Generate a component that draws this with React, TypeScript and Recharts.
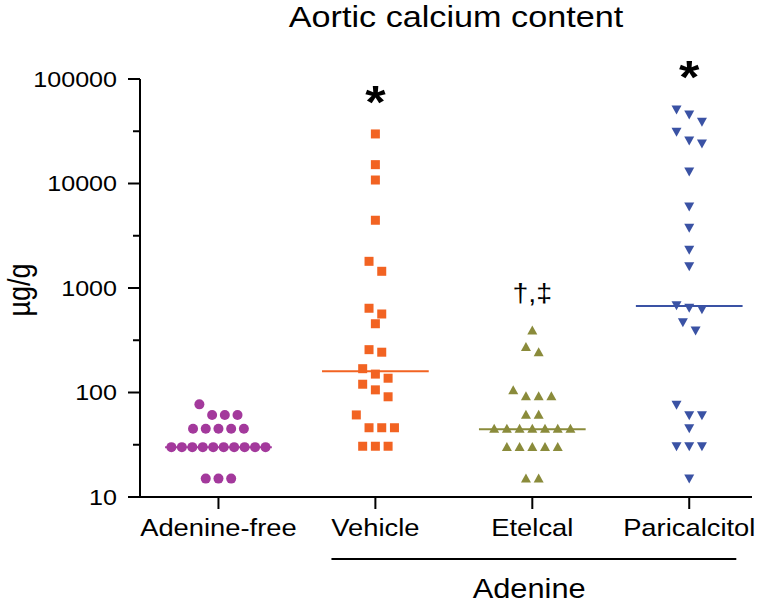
import React from 'react';
import { ScatterChart, Scatter, XAxis, YAxis, ReferenceLine } from 'recharts';

// ---------- data ----------
const categories = ['Adenine-free', 'Vehicle', 'Etelcal', 'Paricalcitol'];

const adenineFree = [77, 61, 61, 61, 45, 45, 45, 45, 45, 30, 30, 30, 30, 30, 30, 30, 30, 30, 30, 15, 15, 15];
const vehicle = [29800, 15150, 10800, 4450, 1800, 1445, 640, 564, 455, 257, 243, 169, 150, 137, 120, 106, 91, 61, 46, 46, 46, 30.6, 30.6, 30.6];
const etelcal = [388, 270, 240, 104, 91, 91, 91, 60.6, 60.6, 44.5, 44.5, 44.5, 44.5, 44.5, 44.5, 44.5, 29.7, 29.7, 29.7, 29.7, 29.7, 14.9, 14.9];
const paricalcitol = [51600, 46200, 39400, 31600, 26100, 24400, 13200, 6100, 3810, 2345, 1633, 692, 653, 634, 476, 396, 77, 61.4, 61.4, 46, 31, 31, 31, 15.2];

const significance = ['', '*', '†,‡', '*'];
const yTicks = [10, 100, 1000, 10000, 100000];
const groupLabel = 'Adenine';
const groupFrom = 'Vehicle';
const groupTo = 'Paricalcitol';

// ---------- styles / layout ----------
const FONT = '"Liberation Sans", Arial, Helvetica, sans-serif';
const STRETCH = 1.14;
const colors = ['#A3399C', '#F26322', '#8A8B3B', '#3A52A4'];
const X_MIN = 0.5;
const X_MAX = 4.4;
const SLOT = 0.081;
const MAX_SPAN = 0.6;
const ROW_TOL = 0.125;
const MEDIAN_HALF = 0.34;
const TICK_SIZE = 12;
const TICK_MARGIN = 11;

const groups = [adenineFree, vehicle, etelcal, paricalcitol];

function swarm(values: number[], center: number) {
  const sorted = [...values].sort((a, b) => b - a);
  const rows: number[][] = [];
  let cur: number[] = [];
  let start = 0;
  for (const v of sorted) {
    const l = Math.log10(v);
    if (cur.length && start - l <= ROW_TOL) cur.push(v);
    else {
      if (cur.length) rows.push(cur);
      cur = [v];
      start = l;
    }
  }
  if (cur.length) rows.push(cur);
  const pts: { x: number; y: number }[] = [];
  for (const row of rows) {
    const n = row.length;
    const step = n > 1 ? Math.min(SLOT, MAX_SPAN / (n - 1)) : 0;
    row.forEach((v, i) => pts.push({ x: center + (i - (n - 1) / 2) * step, y: v }));
  }
  return pts;
}

function median(values: number[]) {
  const s = [...values].sort((a, b) => a - b);
  const n = s.length;
  return n % 2 ? s[(n - 1) / 2] : (s[n / 2 - 1] + s[n / 2]) / 2;
}

const minorTicks = yTicks.slice(0, -1).map((t, i) => Math.sqrt(t * yTicks[i + 1]));
const allYTicks = [...yTicks, ...minorTicks].sort((a, b) => a - b);

const swarmData = groups.map((g, i) => swarm(g, i + 1));
const medians = groups.map(median);
const annotationData = groups
  .map((g, i) => ({ x: i + 1, y: Math.max(...g), text: significance[i] }))
  .filter((d) => d.text);

// ---------- shapes ----------
const CircleShape = (p: any) => <circle cx={p.cx} cy={p.cy} r={5} fill={colors[0]} />;
const SquareShape = (p: any) => <rect x={p.cx - 4.5} y={p.cy - 4.5} width={9} height={9} fill={colors[1]} />;
const UpTri = (p: any) => (
  <polygon points={`${p.cx},${p.cy - 5.5} ${p.cx + 5},${p.cy + 3.5} ${p.cx - 5},${p.cy + 3.5}`} fill={colors[2]} />
);
const DownTri = (p: any) => (
  <polygon points={`${p.cx - 5},${p.cy - 3.5} ${p.cx + 5},${p.cy - 3.5} ${p.cx},${p.cy + 5.5}`} fill={colors[3]} />
);
const shapes = [CircleShape, SquareShape, UpTri, DownTri];

const AnnotationShape = (p: any) => {
  const text = p.payload?.text ?? '';
  const isStar = text === '*';
  const gap = isStar ? 16 : 29;
  return (
    <text
      transform={`translate(${p.cx},${p.cy - gap}) scale(${STRETCH},1)`}
      textAnchor="middle"
      fontFamily={FONT}
      fontSize={isStar ? 46 : 25}
      fontWeight={isStar ? 'bold' : 'normal'}
      fill="#000"
    >
      {text}
    </text>
  );
};

const YTick = (p: any) => {
  const { x, y, payload } = p;
  const v = payload.value;
  const major = yTicks.some((t) => Math.abs(t - v) < 1e-6);
  const axisX = x + TICK_SIZE + TICK_MARGIN;
  return (
    <g>
      <line x1={axisX - (major ? 12 : 7)} x2={axisX} y1={y} y2={y} stroke="#000" strokeWidth={2} />
      {major && (
        <text
          transform={`translate(${x},${y}) scale(${STRETCH},1)`}
          textAnchor="end"
          dy="0.36em"
          fontFamily={FONT}
          fontSize={22}
          fill="#000"
        >
          {String(v)}
        </text>
      )}
    </g>
  );
};

const XTick = (p: any) => {
  const { x, y, payload } = p;
  const label = categories[Math.round(payload.value) - 1] ?? '';
  return (
    <text
      transform={`translate(${x},${y}) scale(${STRETCH},1)`}
      textAnchor="middle"
      dy={23}
      fontFamily={FONT}
      fontSize={24}
      fill="#000"
    >
      {label}
    </text>
  );
};

const YLabel = (p: any) => {
  const vb = p.viewBox || { x: 0, y: 79, width: 140, height: 418 };
  const cx = vb.x + 30;
  const cy = vb.y + vb.height / 2 + 2;
  return (
    <text
      transform={`translate(${cx},${cy}) rotate(-90) scale(1,${STRETCH})`}
      textAnchor="middle"
      fontFamily={FONT}
      fontSize={27}
      fill="#000"
    >
      µg/g
    </text>
  );
};

const XGroupLabel = (p: any) => {
  const vb = p.viewBox || { x: 140, y: 497, width: 612, height: 60 };
  const toPx = (u: number) => vb.x + ((u - X_MIN) / (X_MAX - X_MIN)) * vb.width;
  const a = categories.indexOf(groupFrom) + 1 - 0.28;
  const b = categories.indexOf(groupTo) + 1 + 0.3;
  const mid = (a + b) / 2 - 0.03;
  return (
    <g>
      <line x1={toPx(a)} x2={toPx(b)} y1={vb.y + 62} y2={vb.y + 62} stroke="#000" strokeWidth={2} />
      <text
        transform={`translate(${toPx(mid)},${vb.y + 101}) scale(${STRETCH},1)`}
        textAnchor="middle"
        fontFamily={FONT}
        fontSize={27}
        fill="#000"
      >
        {groupLabel}
      </text>
    </g>
  );
};

export default function App() {
  return (
    <div style={{ position: 'absolute', left: 0, top: 0, width: 774, height: 606, background: '#fff' }}>
      <div
        style={{
          position: 'absolute',
          left: 0,
          top: 0,
          width: 912,
          textAlign: 'center',
          fontFamily: FONT,
          fontSize: 30,
          lineHeight: '34px',
          color: '#000',
          transform: `scaleX(${STRETCH})`,
          transformOrigin: '0 0',
          whiteSpace: 'nowrap',
        }}
      >
        <span style={{ display: 'inline-block', position: 'relative', left: -56 }}>Aortic calcium content</span>
      </div>
      <ScatterChart width={774} height={606} margin={{ top: 79, right: 22, bottom: 49, left: 0 }}>
        <XAxis
          type="number"
          dataKey="x"
          domain={[X_MIN, X_MAX]}
          ticks={[1, 2, 3, 4]}
          interval={0}
          height={60}
          axisLine={{ stroke: '#000', strokeWidth: 2 }}
          tickLine={{ stroke: '#000', strokeWidth: 2 }}
          tickSize={TICK_SIZE}
          tickMargin={4}
          tick={<XTick />}
          label={{ content: <XGroupLabel /> }}
        />
        <YAxis
          type="number"
          dataKey="y"
          scale="log"
          domain={[10, 100000]}
          ticks={allYTicks}
          interval={0}
          width={140}
          axisLine={{ stroke: '#000', strokeWidth: 2 }}
          tickLine={false}
          tickSize={TICK_SIZE}
          tickMargin={TICK_MARGIN}
          tick={<YTick />}
          label={{ content: <YLabel /> }}
        />
        {medians.map((m, i) => (
          <ReferenceLine
            key={`med-${i}`}
            segment={[
              { x: i + 1 - MEDIAN_HALF, y: m },
              { x: i + 1 + MEDIAN_HALF, y: m },
            ]}
            stroke={colors[i]}
            strokeWidth={2}
          />
        ))}
        {swarmData.map((d, i) => (
          <Scatter key={categories[i]} name={categories[i]} data={d} shape={shapes[i]} isAnimationActive={false} />
        ))}
        <Scatter name="significance" data={annotationData} shape={AnnotationShape} isAnimationActive={false} />
      </ScatterChart>
    </div>
  );
}
